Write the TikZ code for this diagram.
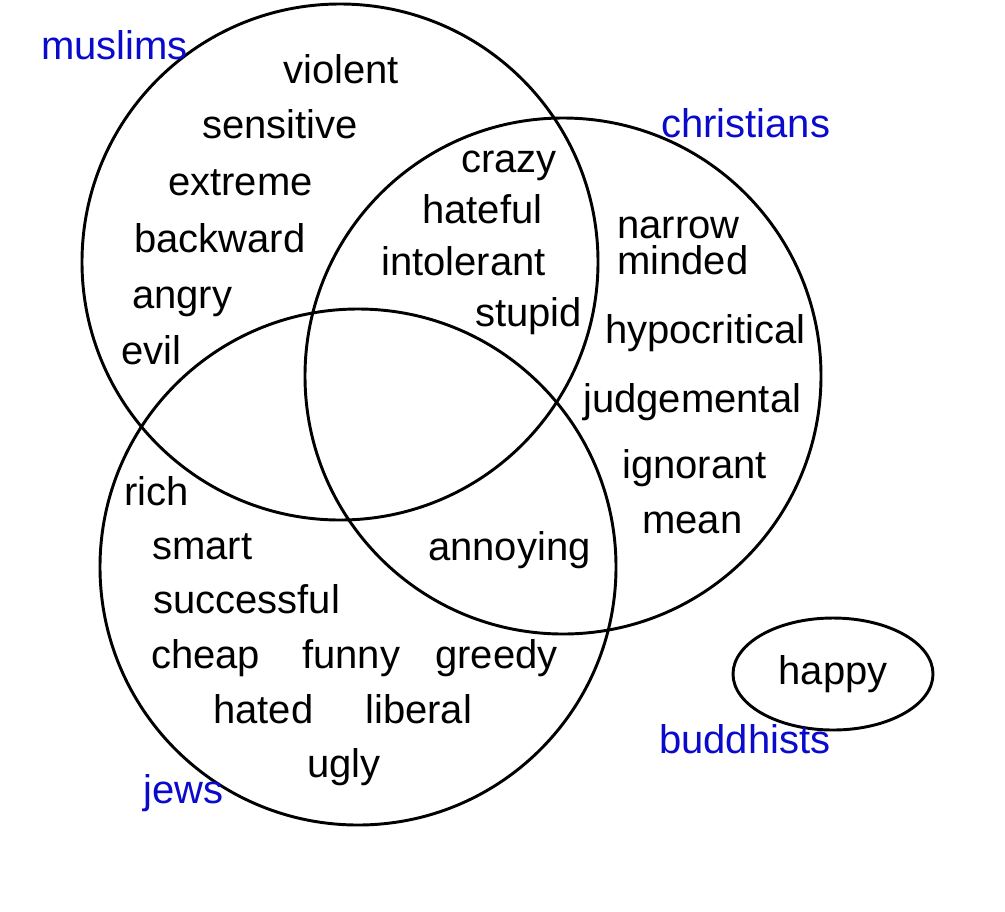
\documentclass[tikz,border=0pt]{standalone}
\usepackage{fontspec}
\setmainfont{Liberation Sans}
\usetikzlibrary{shapes.geometric}
\definecolor{grouplabel}{RGB}{10,10,205}
\begin{document}
\begin{tikzpicture}[x=0.75pt,y=-0.75pt,
  ring/.style={draw=black,line width=2.2pt,circle,inner sep=0pt,minimum size=387pt},
  word/.style={anchor=base west,inner sep=0pt,font=\fontsize{30pt}{33pt}\selectfont,text=black},
  group/.style={word,text=grouplabel}]
\useasboundingbox (0,0) rectangle (1005,911);
\fill[white] (0,0) rectangle (1005,911);
% circles
\node[ring] (muslimsC) at (340,262) {};
\node[ring] (christiansC) at (563,376) {};
\node[ring] (jewsC) at (358,567) {};
\node[draw=black,line width=2.2pt,ellipse,inner sep=0pt,minimum width=150pt,minimum height=84pt,
      font=\fontsize{30pt}{33pt}\selectfont] (buddhistsC) at (833,674) {happy};
% group labels
\node[group] (muslims) at (41,59) {muslims};
\node[group] (christians) at (661,137) {christians};
\node[group] (jews) at (143,803) {jews};
\node[group] (buddhists) at (659,753) {buddhists};
% muslims only
\node[word] (violent) at (283,83) {violent};
\node[word] (sensitive) at (202,138) {sensitive};
\node[word] (extreme) at (168,195) {extreme};
\node[word] (backward) at (134,252) {backward};
\node[word] (angry) at (132,308) {angry};
\node[word] (evil) at (121,364) {evil};
% muslims & christians
\node[word] (crazy) at (461,172) {crazy};
\node[word] (hateful) at (422,223) {hateful};
\node[word] (intolerant) at (381,275) {intolerant};
\node[word] (stupid) at (475,326) {stupid};
% christians only
\node[word] (narrow) at (617,238) {narrow};
\node[word] (minded) at (617,274) {minded};
\node[word] (hypocritical) at (605,343) {hypocritical};
\node[word] (judgemental) at (583,412) {judgemental};
\node[word] (ignorant) at (622,478) {ignorant};
\node[word] (mean) at (642,533) {mean};
% christians & jews
\node[word] (annoying) at (428,560) {annoying};
% jews only
\node[word] (rich) at (124,505) {rich};
\node[word] (smart) at (152,559) {smart};
\node[word] (successful) at (153,613) {successful};
\node[word] (cheap) at (151,668) {cheap};
\node[word] (funny) at (302,668) {funny};
\node[word] (greedy) at (435,668) {greedy};
\node[word] (hated) at (213,723) {hated};
\node[word] (liberal) at (365,723) {liberal};
\node[word] (ugly) at (307,777) {ugly};
\end{tikzpicture}
\end{document}
